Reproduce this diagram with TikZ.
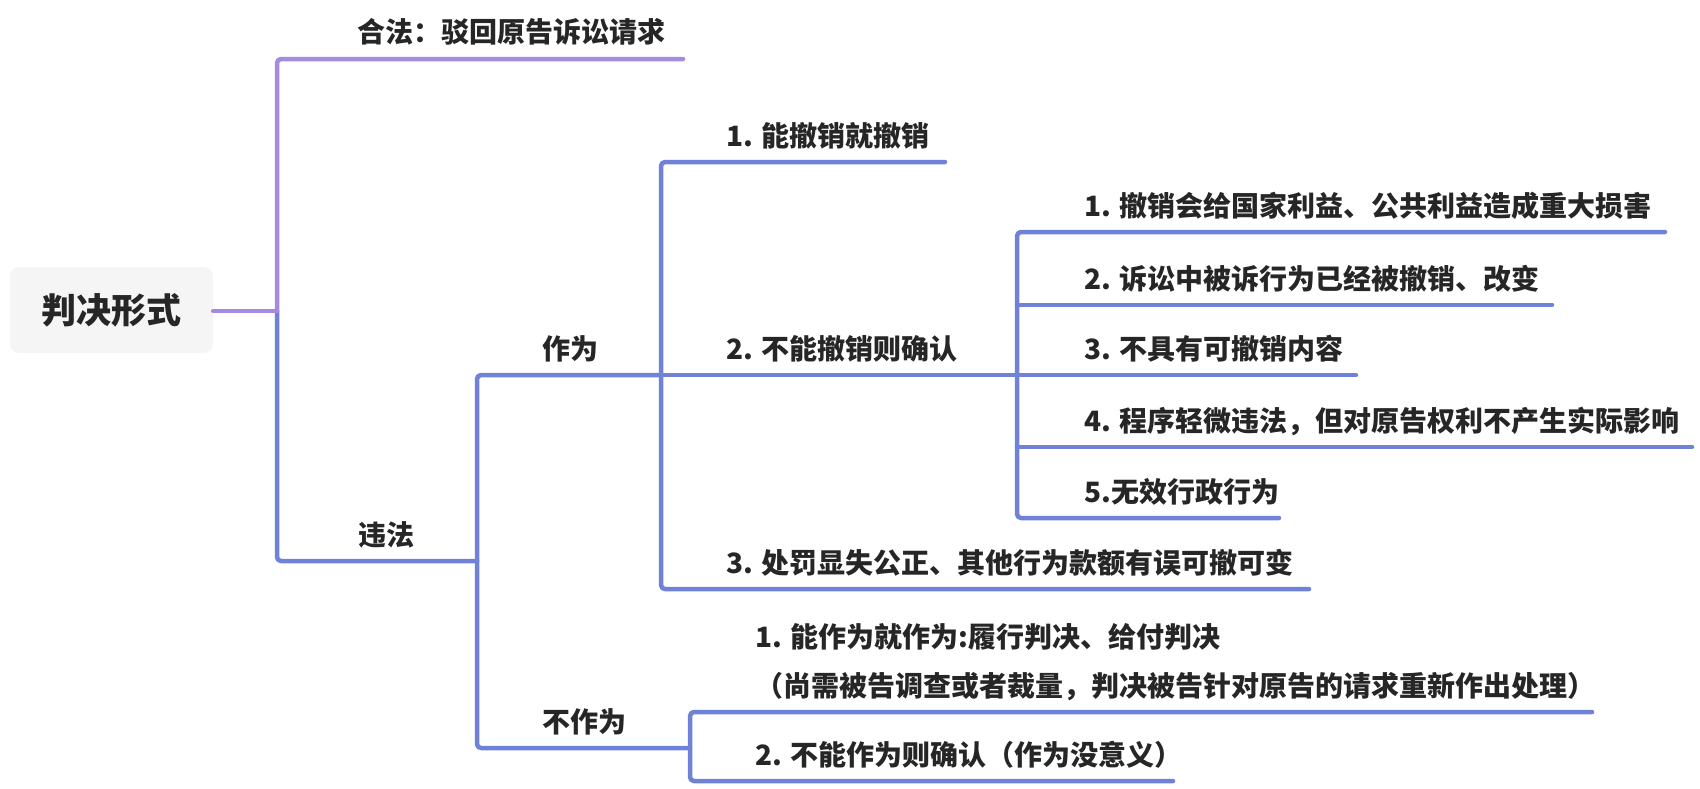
\documentclass[tikz,border=0pt]{standalone}
\usepackage{fontspec}
\newfontfamily\cjk{Noto Sans CJK SC}
\definecolor{purp}{RGB}{164,139,223}
\definecolor{blu}{RGB}{112,130,216}
\definecolor{txt}{RGB}{38,38,38}
\definecolor{rootfill}{RGB}{245,245,245}
\tikzset{
  brP/.style={draw=purp,line width=4.5pt,line cap=round,line join=round,rounded corners=4pt},
  brB/.style={draw=blu,line width=4.5pt,line cap=round,line join=round,rounded corners=4pt},
  topic/.style={font=\cjk\bfseries\fontsize{28}{34}\selectfont,text=txt,inner sep=0pt,anchor=base west},
  rootbox/.style={fill=rootfill,rounded corners=9pt,minimum width=203pt,minimum height=86pt,inner sep=0pt,
    font=\cjk\bfseries\fontsize{35}{40}\selectfont,text=txt}
}
\begin{document}
\begin{tikzpicture}[x=1pt,y=-1pt]
\useasboundingbox (0,0) rectangle (1700,788);
% root
\node[rootbox] (root) at (111.5,310) {判决形式};
% junction coordinates
\coordinate (j0) at (277,311);
\coordinate (j1) at (477,561);
\coordinate (j2) at (661,375);
\coordinate (j3) at (1017,375);
\coordinate (j4) at (690,748);
% line ends
\coordinate (hefaE) at (683,59);
\coordinate (weifaE) at (477,561);
\coordinate (zuoweiTop) at (477,375);
\coordinate (buzuoweiE) at (690,748);
\coordinate (a1E) at (945,162);
\coordinate (a3E) at (1309,589);
\coordinate (s1E) at (1665,232);
\coordinate (s2E) at (1552,305);
\coordinate (s3E) at (1356,375);
\coordinate (s4E) at (1692,447);
\coordinate (s5E) at (1279,518);
\coordinate (b1E) at (1592,712);
\coordinate (b2E) at (1173,781);
% texts
\node[topic] (hefa) at (357,42) {合法：驳回原告诉讼请求};
\node[topic] (weifa) at (358,545) {违法};
\node[topic] (zuowei) at (542,359) {作为};
\node[topic] (buzuowei) at (542,732) {不作为};
\node[topic] (a1) at (726,146) {1. 能撤销就撤销};
\node[topic] (a2) at (726,359) {2. 不能撤销则确认};
\node[topic] (a3) at (726,573) {3. 处罚显失公正、其他行为款额有误可撤可变};
\node[topic] (s1) at (1084,216) {1. 撤销会给国家利益、公共利益造成重大损害};
\node[topic] (s2) at (1084,289) {2. 诉讼中被诉行为已经被撤销、改变};
\node[topic] (s3) at (1084,359) {3. 不具有可撤销内容};
\node[topic] (s4) at (1084,431) {4. 程序轻微违法，但对原告权利不产生实际影响};
\node[topic] (s5) at (1084,502) {5.无效行政行为};
\node[topic] (b1) at (755,647) {1. 能作为就作为:履行判决、给付判决};
\node[topic] (b1b) at (755,696) {（尚需被告调查或者裁量，判决被告针对原告的请求重新作出处理）};
\node[topic] (b2) at (755,765) {2. 不能作为则确认（作为没意义）};
% connectors
\draw[brB] (j0) -- (277,561) -- (weifaE);
\draw[brP] (root.east |- j0) -- (j0);
\draw[brP] (j0) -- (277,59) -- (hefaE);
\draw[brB] (j2) -- (zuoweiTop) -- (j1 |- j4) -- (buzuoweiE);
\draw[brB] (j2) -- (j3);
\draw[brB] (j3) -- (s3E);
\draw[brB] (a1E) -- (661,162) -- (661,589) -- (a3E);
\draw[brB] (s1E) -- (1017,232) -- (1017,518) -- (s5E);
\draw[brB] (1017,305) -- (s2E);
\draw[brB] (1017,447) -- (s4E);
\draw[brB] (b1E) -- (690,712) -- (690,781) -- (b2E);
\end{tikzpicture}
\end{document}
